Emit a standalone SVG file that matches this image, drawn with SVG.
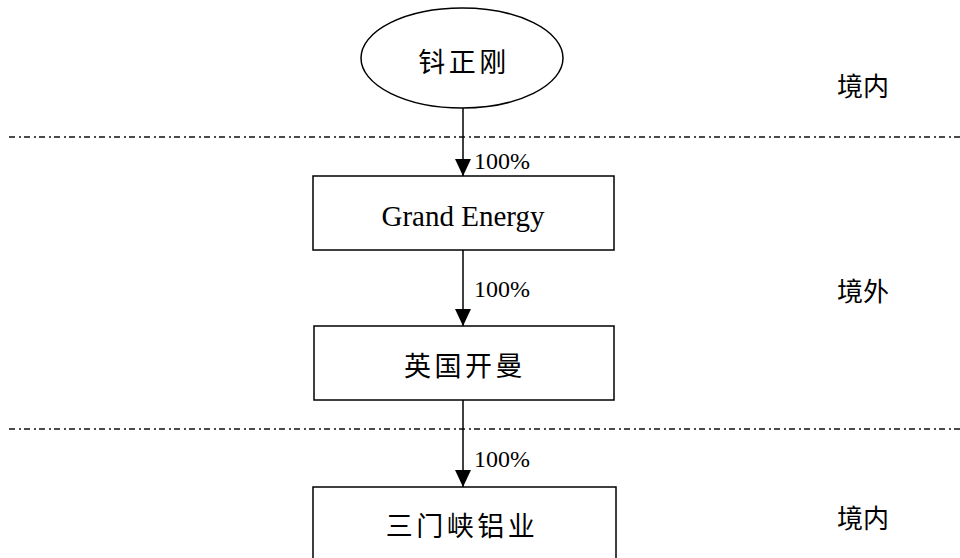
<svg xmlns="http://www.w3.org/2000/svg" width="960" height="558" viewBox="0 0 960 558">
<style>
.shape{fill:#fff;stroke:#000;stroke-width:1.5}
.cjk{font-family:"Noto Sans CJK SC",sans-serif;font-size:27px;letter-spacing:3.5px;text-anchor:middle;fill:#000}
.side{font-family:"Noto Sans CJK SC",sans-serif;font-size:26px;fill:#000}
.lbl{font-family:"Liberation Serif",serif;font-size:24px;fill:#000}
.sep{stroke:#111;stroke-width:1.4;stroke-dasharray:6 4 2 3;fill:none}
.edge{stroke:#000;stroke-width:1.5;fill:none}
</style>
<defs>
<marker id="ah" viewBox="0 0 17 16" refX="17" refY="8" markerWidth="17" markerHeight="16" markerUnits="userSpaceOnUse" orient="auto">
<path d="M0,0 L17,8 L0,16 z" fill="#000"/>
</marker>
</defs>
<g id="separators">
<line class="sep" x1="9" y1="137" x2="960" y2="137"/>
<line class="sep" x1="9" y1="429" x2="960" y2="429"/>
</g>
<g id="connectors">
<line class="edge" x1="463" y1="108" x2="463" y2="176" marker-end="url(#ah)"/>
<line class="edge" x1="463" y1="250" x2="463" y2="326" marker-end="url(#ah)"/>
<line class="edge" x1="463" y1="400" x2="463" y2="487" marker-end="url(#ah)"/>
<text class="lbl" x="474" y="169">100%</text>
<text class="lbl" x="474" y="297">100%</text>
<text class="lbl" x="474" y="467">100%</text>
</g>
<g id="node-person">
<ellipse class="shape" cx="462" cy="58" rx="101" ry="50"/>
<text class="cjk" x="464" y="72">钭正刚</text>
</g>
<g id="node-grand-energy">
<rect class="shape" x="313" y="176" width="301" height="74"/>
<text x="463" y="226" font-family="Liberation Serif, serif" font-size="29" text-anchor="middle">Grand Energy</text>
</g>
<g id="node-cayman">
<rect class="shape" x="314" y="326" width="300" height="74"/>
<text class="cjk" x="465" y="376">英国开曼</text>
</g>
<g id="node-sanmenxia">
<rect class="shape" x="313" y="487" width="303" height="80"/>
<text class="cjk" x="462" y="536">三门峡铝业</text>
</g>
<g id="zones">
<text class="side" x="837" y="96">境内</text>
<text class="side" x="837" y="301">境外</text>
<text class="side" x="837" y="528">境内</text>
</g>
</svg>
